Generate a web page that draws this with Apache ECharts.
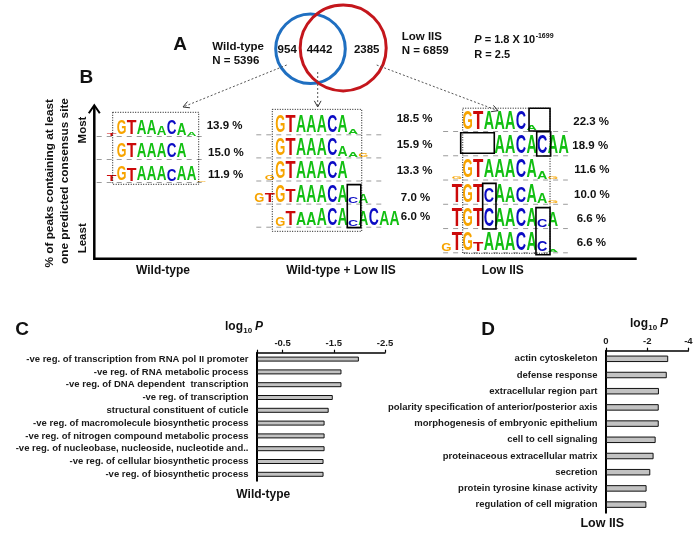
<!DOCTYPE html>
<html><head><meta charset="utf-8">
<script src="https://cdn.jsdelivr.net/npm/echarts@6/dist/echarts.min.js"></script>
<style>html,body{margin:0;padding:0;background:#fff}#chart{width:700px;height:541px}</style>
</head><body><div id="chart"></div>
<script>
// ================= DATA =================
// Panel A – Venn
const vennSets = ['Wild-type', 'Low IIS'];
const vennTotals = [5396, 6859];
const vennCounts = [954, 4442, 2385];          // WT only, shared, Low IIS only
const vennPvalue = ['1.8 X 10', '-1699'];
const vennRatio = '2.5';

// Panel B – motif logos
const logoGroups = ['Wild-type', 'Wild-type + Low IIS', 'Low IIS'];
const wtPercents   = ['13.9 %', '15.0 %', '11.9 %'];
const bothPercents = ['18.5 %', '15.9 %', '13.3 %', '7.0 %', '6.0 %'];
const lowPercents  = ['22.3 %', '18.9 %', '11.6 %', '10.0 %', '6.6 %', '6.6 %'];

const wtLogoStart = [-1, 0, -1];
const wtLogoSeq   = ['TGTAAACAA', 'GTAAACA', 'TGTAAACAAG'];
const wtLogoHeight = [
  [0.15, 1, 1, 1, 1, 0.65, 1, 0.85, 0.25],
  [1, 1, 1, 1, 1, 1, 1],
  [0.45, 1, 0.9, 1, 1, 1, 0.85, 1, 1, 0.1]
];
const bothLogoStart = [0, 0, -1, -2, 0];
const bothLogoSeq   = ['GTAAACAA', 'GTAAACAAG', 'GGTAAACA', 'GTGTAAACACA', 'GTAAACACACAA'];
const bothLogoHeight = [
  [1, 1, 1, 1, 1, 1, 1, 0.3],
  [1, 1, 1, 1, 1, 1, 0.6, 0.3, 0.2],
  [0.3, 1, 1, 1, 1, 1, 1, 1],
  [0.55, 0.55, 1, 0.75, 1, 1, 1, 1, 1, 0.35, 0.5],
  [0.55, 0.85, 0.75, 0.75, 1, 0.95, 1, 0.4, 0.85, 1, 0.85, 0.85]
];
const lowLogoStart = [0, 3, -1, -1, -1, -2];
const lowLogoSeq   = ['GTAAACA', 'AACACAA', 'GGTAAACAAG', 'TGTCAACAAG', 'TGTCAACACA', 'GTGTAAACACA'];
const lowLogoHeight = [
  [1, 1, 1, 1, 1, 1, 0.25],
  [1, 1, 1, 1, 1, 1, 1],
  [0.12, 1, 1, 1, 1, 1, 1, 1, 0.45, 0.15],
  [1, 1, 1, 0.8, 1, 0.85, 0.85, 1, 0.6, 0.15],
  [1, 1, 1, 1, 1, 1, 1, 1, 0.45, 0.8],
  [0.4, 1, 1, 0.5, 1, 1, 1, 1, 1, 0.55, 0.1]
];

// Panel C – GO terms, wild-type
const wtTerms = [
  '-ve reg. of transcription from RNA pol II promoter',
  '-ve reg. of RNA metabolic process',
  '-ve reg. of DNA dependent  transcription',
  '-ve reg. of transcription',
  'structural constituent of cuticle',
  '-ve reg. of macromolecule biosynthetic process',
  '-ve reg. of nitrogen compound metabolic process',
  '-ve reg. of nucleobase, nucleoside, nucleotide and..',
  '-ve reg. of cellular biosynthetic process',
  '-ve reg. of biosynthetic process'
];
const wtLogP = [-1.99, -1.65, -1.65, -1.48, -1.40, -1.32, -1.32, -1.32, -1.30, -1.30];
const wtTicks = ['-0.5', '-1.5', '-2.5'];

// Panel D – GO terms, low IIS
const lowTerms = [
  'actin cytoskeleton',
  'defense response',
  'extracellular region part',
  'polarity specification of anterior/posterior axis',
  'morphogenesis of embryonic epithelium',
  'cell to cell signaling',
  'proteinaceous extracellular matrix',
  'secretion',
  'protein tyrosine kinase activity',
  'regulation of cell migration'
];
const lowLogP = [-3.02, -2.95, -2.57, -2.56, -2.56, -2.41, -2.31, -2.15, -1.97, -1.96];
const lowTicks = ['0', '-2', '-4'];

// ================= LAYOUT / STYLE =================
const FF = '"Liberation Sans", Arial, Helvetica, sans-serif';
const LETTER_COL = {A: '#12bf12', C: '#0b0bc4', G: '#f7a400', T: '#cc0a0a'};
const LETTER_W = {A: 0.722, C: 0.722, G: 0.778, T: 0.611};
const BASE_F = 20;

const logoLayout = [
  {grid: {left: 86.7, top: 136, width: 130, height: 46}, xr: [-3, 10], rows: 3, full: 0.62,
   pctSlot: [9.0, 9.13, 9.13], pctShift: [-0.43, -0.28, -0.3],
   dash: [-2, 9.0], dotted: [-0.4, 8.2, -1.03, 2.1], boxes: []},
  {grid: {left: 243.8, top: 134.3, width: 166.4, height: 92.4}, xr: [-3, 13], rows: 5, full: 0.76,
   pctSlot: [11.7, 11.7, 11.7, 12.1, 12.1], pctShift: [-0.65, -0.54, -0.42, -0.23, -0.41],
   dash: [-1.8, 10.3], dotted: [-0.26, 8.34, -1.08, 4.2], boxes: [[6.95, 8.25, 2.18, 4.04]]},
  {grid: {left: 430.32, top: 131, width: 149.24, height: 121.3}, xr: [-3, 11], rows: 6, full: 0.76,
   pctSlot: [10.41, 10.32, 10.5, 10.48, 10.73, 10.73], pctShift: [-0.38, -0.38, -0.39, -0.36, -0.36, -0.37],
   dash: [-1.8, 9.9], dotted: [0.04, 8.23, -0.94, 5.04],
   boxes: [[6.26, 8.23, -0.94, 0.0], [-0.15, 3.0, 0.07, 0.92], [6.98, 8.29, 0.03, 1.03],
           [1.91, 3.16, 2.16, 4.04], [6.91, 8.23, 3.16, 5.1]]}
];
const logoData = [
  {start: wtLogoStart, seq: wtLogoSeq, h: wtLogoHeight, pct: wtPercents},
  {start: bothLogoStart, seq: bothLogoSeq, h: bothLogoHeight, pct: bothPercents},
  {start: lowLogoStart, seq: lowLogoSeq, h: lowLogoHeight, pct: lowPercents}
];

const mctx = document.createElement('canvas').getContext('2d');
function tw(t, font) { mctx.font = font; return mctx.measureText(t).width; }

function logoSeries(gi) {
  const L = logoLayout[gi], D = logoData[gi];
  const items = [];
  D.seq.forEach((s, r) => items.push({k: 'dash', r}));
  D.seq.forEach((s, r) => {
    for (let i = 0; i < s.length; i++) items.push({k: 'L', slot: D.start[r] + i, r, ch: s[i], h: D.h[r][i]});
  });
  L.boxes.forEach(b => items.push({k: 'box', b}));
  items.push({k: 'dot', b: L.dotted});
  D.pct.forEach((t, r) => items.push({k: 'pct', r, t}));
  return {
    type: 'custom', xAxisIndex: gi + 2, yAxisIndex: gi + 2, clip: false, silent: true,
    data: items.map((d, i) => [d.slot != null ? d.slot : 0, d.r != null ? d.r : 0, i]),
    renderItem: function (params, api) {
      const d = items[params.dataIndex];
      if (d.k === 'dash') {
        const a = api.coord([L.dash[0], d.r]), b = api.coord([L.dash[1], d.r]);
        return {type: 'line', shape: {x1: a[0], y1: a[1] + 0.5, x2: b[0], y2: b[1] + 0.5},
          style: {stroke: '#9c9c9c', lineWidth: 1, lineDash: [5, 5]}};
      }
      if (d.k === 'L') {
        const p = api.coord([d.slot, d.r]);
        const w = api.size([1, 0])[0];
        const fullH = api.size([0, L.full])[1];
        const hp = Math.max(d.h * fullH, 0.8);
        return {type: 'text', x: p[0] + w / 2, y: p[1] - hp / 2,
          scaleX: (w * 0.97) / (LETTER_W[d.ch] * BASE_F), scaleY: hp / (0.716 * BASE_F),
          style: {text: d.ch, fill: LETTER_COL[d.ch], font: 'bold ' + BASE_F + 'px ' + FF,
            align: 'center', verticalAlign: 'middle'}};
      }
      if (d.k === 'box' || d.k === 'dot') {
        const a = api.coord([d.b[0], d.b[2]]), c = api.coord([d.b[1], d.b[3]]);
        return {type: 'rect', shape: {x: a[0], y: a[1], width: c[0] - a[0], height: c[1] - a[1]},
          style: d.k === 'box' ? {fill: 'none', stroke: '#000', lineWidth: 1.6}
                               : {fill: 'none', stroke: '#111', lineWidth: 1, lineDash: [1, 1.5]}};
      }
      if (d.k === 'pct') {
        const p = api.coord([L.pctSlot[d.r], d.r + L.pctShift[d.r]]);
        return {type: 'text', x: p[0], y: p[1],
          style: {text: d.t, fill: '#111', font: 'bold 11.5px ' + FF, align: 'left', verticalAlign: 'middle'}};
      }
      return null;
    }
  };
}

// ---------- graphic helpers ----------
function txt(x, y, t, size, opt) {
  opt = opt || {};
  return {type: 'text', x, y, rotation: opt.rot || 0, z: 10, silent: true,
    style: {text: t, fill: opt.fill || '#111',
      font: (opt.italic ? 'italic ' : '') + 'bold ' + size + 'px ' + FF,
      align: opt.align || 'left', verticalAlign: 'middle'}};
}
function arrow(x1, y1, x2, y2) {
  const a = Math.atan2(y2 - y1, x2 - x1), L = 7, s = 0.5;
  return [
    {type: 'line', z: 9, silent: true, shape: {x1, y1, x2, y2}, style: {stroke: '#555', lineWidth: 1, lineDash: [2, 2]}},
    {type: 'polyline', z: 9, silent: true, shape: {points: [
      [x2 - L * Math.cos(a - s), y2 - L * Math.sin(a - s)], [x2, y2],
      [x2 - L * Math.cos(a + s), y2 - L * Math.sin(a + s)]]},
      style: {stroke: '#333', lineWidth: 1, fill: 'none'}}
  ];
}
function log10Title(x, base) {
  const f1 = 'bold 12px ' + FF, f2 = 'bold 8px ' + FF;
  const w1 = tw('log', f1), w2 = tw('10', f2);
  return [
    txt(x, base - 0.3465 * 12, 'log', 12),
    txt(x + w1 + 0.3, base + 2.5 - 0.3465 * 8, '10', 8),
    txt(x + w1 + w2 + 3, base - 0.3465 * 12, 'P', 12, {italic: true})
  ];
}

const g = [];
// Panel letters
g.push(txt(180, 45, 'A', 19, {align: 'center'}));
g.push(txt(86.3, 78, 'B', 19, {align: 'center'}));
g.push(txt(22.2, 329.7, 'C', 19, {align: 'center'}));
g.push(txt(488, 330, 'D', 19, {align: 'center'}));

// Venn
g.push({type: 'circle', z: 8, silent: true, shape: {cx: 310.5, cy: 48.8, r: 34.8}, style: {fill: 'none', stroke: '#1f6fc1', lineWidth: 3}});
g.push({type: 'circle', z: 8, silent: true, shape: {cx: 343.2, cy: 47.9, r: 43}, style: {fill: 'none', stroke: '#c4161c', lineWidth: 3}});
g.push(txt(287.2, 49.7, String(vennCounts[0]), 11.5, {align: 'center'}));
g.push(txt(319.5, 49.7, String(vennCounts[1]), 11.5, {align: 'center'}));
g.push(txt(366.7, 49.7, String(vennCounts[2]), 11.5, {align: 'center'}));
g.push(txt(212.3, 46.6, vennSets[0], 11.5));
g.push(txt(212.3, 60.8, 'N = ' + vennTotals[0], 11.5));
g.push(txt(401.7, 36.5, vennSets[1], 11.5));
g.push(txt(401.7, 50.8, 'N = ' + vennTotals[1], 11.5));
(function () {
  const fP = 'italic bold 11px ' + FF, fN = 'bold 11px ' + FF;
  const wP = tw('P', fP), wN = tw(' = ' + vennPvalue[0], fN);
  g.push(txt(474.3, 39.5, 'P', 11, {italic: true}));
  g.push(txt(474.3 + wP, 39.5, ' = ' + vennPvalue[0], 11));
  g.push(txt(474.3 + wP + wN + 0.5, 36.3, vennPvalue[1], 7));
  g.push(txt(474.3, 55, 'R = ' + vennRatio, 11));
})();
g.push(...arrow(286.7, 65, 183, 107));
g.push(...arrow(317.7, 72, 317.7, 107));
g.push(...arrow(376.7, 65, 498, 110.7));

// Panel B axes
g.push({type: 'polyline', z: 9, silent: true, shape: {points: [[94.3, 106], [94.3, 258.7], [636.7, 258.7]]},
  style: {stroke: '#000', lineWidth: 2.5, fill: 'none'}});
g.push({type: 'polyline', z: 9, silent: true, shape: {points: [[88.8, 113.3], [94.3, 105.3], [99.8, 113.3]]},
  style: {stroke: '#000', lineWidth: 2, fill: 'none'}});
g.push(txt(83, 130, 'Most', 11.5, {align: 'center', rot: Math.PI / 2}));
g.push(txt(83, 238.3, 'Least', 11.5, {align: 'center', rot: Math.PI / 2}));
g.push(txt(50, 183.3, '% of peaks containing at least', 11.8, {align: 'center', rot: Math.PI / 2}));
g.push(txt(65, 181, 'one predicted consensus site', 11.8, {align: 'center', rot: Math.PI / 2}));
g.push(txt(163, 270.7, logoGroups[0], 12, {align: 'center'}));
g.push(txt(341, 270.7, logoGroups[1], 12, {align: 'center'}));
g.push(txt(502.8, 270.7, logoGroups[2], 12, {align: 'center'}));

// Panel C/D titles
g.push(...log10Title(225, 331));
g.push(...log10Title(630, 328.3));
g.push(txt(263.3, 494.5, 'Wild-type', 12, {align: 'center'}));
g.push(txt(602.3, 523.3, 'Low IIS', 12.5, {align: 'center'}));

// ================= CHART =================
const axisFont = {fontFamily: FF, fontWeight: 'bold', fontSize: 9.5, color: '#1a1a1a'};
function barXAxis(gi, min, interval, ticks) {
  return {gridIndex: gi, type: 'value', position: 'top', inverse: true, min: min, max: 0, interval: interval,
    axisLine: {show: true, lineStyle: {color: '#000', width: 1.5}},
    axisTick: {show: true, length: 3, lineStyle: {color: '#000', width: 1.2}},
    splitLine: {show: false},
    axisLabel: Object.assign({margin: 4, formatter: v => {
      const s = String(v); return ticks.indexOf(s) >= 0 ? s : ''; }}, axisFont)};
}
function barYAxis(gi, cats) {
  return {gridIndex: gi, type: 'category', inverse: true, data: cats,
    axisLine: {show: true, lineStyle: {color: '#000', width: 2}},
    axisTick: {show: false},
    axisLabel: Object.assign({interval: 0, margin: 8.5}, axisFont)};
}
const hiddenX = (gi, r) => ({gridIndex: gi, type: 'value', min: r[0], max: r[1], show: false});
const hiddenY = (gi, n) => ({gridIndex: gi, type: 'value', min: 0, max: n - 1, inverse: true, show: false});

const option = {
  animation: false,
  backgroundColor: '#fff',
  textStyle: {fontFamily: FF},
  grid: [
    {left: 257, top: 352.7, width: 128, height: 128},
    {left: 606, top: 350.7, width: 82.4, height: 162},
    logoLayout[0].grid, logoLayout[1].grid, logoLayout[2].grid
  ],
  xAxis: [barXAxis(0, -2.5, 1, wtTicks), barXAxis(1, -4, 2, lowTicks),
    hiddenX(2, logoLayout[0].xr), hiddenX(3, logoLayout[1].xr), hiddenX(4, logoLayout[2].xr)],
  yAxis: [barYAxis(0, wtTerms), barYAxis(1, lowTerms),
    hiddenY(2, logoLayout[0].rows), hiddenY(3, logoLayout[1].rows), hiddenY(4, logoLayout[2].rows)],
  series: [
    {type: 'bar', xAxisIndex: 0, yAxisIndex: 0, data: wtLogP, barWidth: 5, silent: true,
     itemStyle: {color: '#c2c2c2', borderColor: '#111', borderWidth: 1}},
    {type: 'bar', xAxisIndex: 1, yAxisIndex: 1, data: lowLogP, barWidth: 6.5, silent: true,
     itemStyle: {color: '#c2c2c2', borderColor: '#111', borderWidth: 1}},
    logoSeries(0), logoSeries(1), logoSeries(2)
  ],
  graphic: {elements: g}
};
const chart = echarts.init(document.getElementById('chart'), null, {renderer: 'canvas'});
chart.setOption(option);
</script>
</body></html>
